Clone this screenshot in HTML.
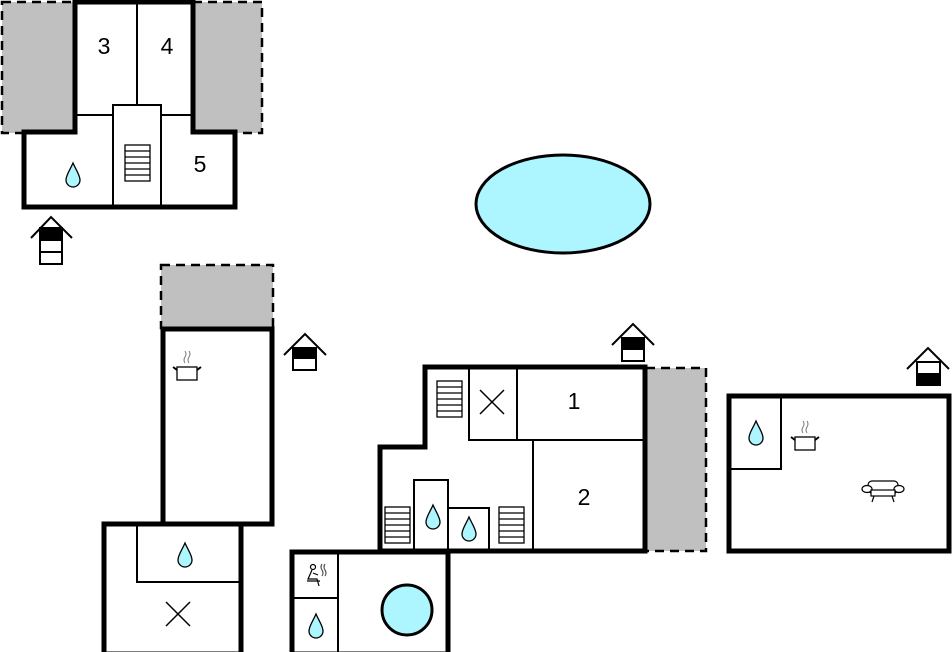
<!DOCTYPE html>
<html><head><meta charset="utf-8"><style>
html,body{margin:0;padding:0;background:#fff;}
svg{display:block;}
text{font-family:"Liberation Sans",sans-serif;font-size:23px;fill:#000;text-anchor:middle;}
</style></head><body>
<svg width="952" height="652" viewBox="0 0 952 652" xmlns="http://www.w3.org/2000/svg">
<defs>
<path id="drop" d="M0,-12 C-3,-5 -7,0 -7,5 A7,7 0 0,0 7,5 C7,0 3,-5 0,-12Z" fill="#aef6ff" stroke="#000" stroke-width="1.3"/>
<g id="stairs"><rect x="0" y="0" width="25" height="36" fill="#fff" stroke="#000" stroke-width="1.3"/>
<path d="M0,6H25M0,12H25M0,18H25M0,24H25M0,30H25" stroke="#000" stroke-width="1.3"/></g>
<g id="pot" fill="none" stroke="#000" stroke-width="1.3">
<rect x="-10" y="-4" width="20" height="13" fill="#fff"/>
<path d="M-10,-1 L-14,-4 M10,-1 L14,-4" stroke-width="2"/>
<path d="M-2,-8 q-2,-3 0,-6 q2,-3 0,-6 M2,-8 q-2,-3 0,-6 q2,-3 0,-6" stroke="#777" stroke-width="1"/>
</g>
<g id="cross"><path d="M-12,-12 L12,12 M12,-12 L-12,12" stroke="#000" stroke-width="1.5"/></g>
</defs>
<g fill="#c0c0c0" stroke="#000" stroke-width="2.5" stroke-dasharray="9,6">
<rect x="2" y="2" width="73" height="131"/>
<rect x="193" y="2" width="69" height="131"/>
<rect x="161" y="265" width="112" height="63"/>
<rect x="646" y="368" width="60" height="183"/>
</g>
<ellipse cx="563" cy="204" rx="87" ry="49" fill="#aef6ff" stroke="#000" stroke-width="3"/>
<g fill="#fff" stroke="#000" stroke-width="5" stroke-linejoin="miter">
<path d="M75,2 H193 V132 H235 V207 H24 V132 H75 Z"/>
<rect x="163" y="329" width="109" height="195"/>
<rect x="104" y="524" width="137" height="130"/>
<path d="M425,367 H645 V551 H380 V447 H425 Z"/>
<rect x="292" y="552" width="156" height="102"/>
<rect x="729" y="396" width="220" height="155"/>
</g>
<g fill="none" stroke="#000" stroke-width="2">
<path d="M137,3 V105 M75,115 H113 M161,115 H193"/>
<rect x="113" y="105" width="48" height="102" fill="#fff"/>
<rect x="137" y="524" width="104" height="58"/>
<path d="M469,367 V440 H645 M517,367 V440 M533,440 V551"/>
<rect x="414" y="480" width="34" height="71"/>
<rect x="448" y="508" width="41" height="43"/>
<path d="M338,552 V652 M292,598 H338"/>
<rect x="729" y="396" width="52" height="73"/>
</g>
<g stroke="#000" stroke-width="5" fill="none">
<path d="M75,2 H193 V132 H235 V207 H24 V132 H75 Z"/>
<path d="M425,367 H645 V551 H380 V447 H425 Z"/>
<rect x="292" y="552" width="156" height="102"/>
<rect x="104" y="524" width="137" height="130"/>
<rect x="163" y="329" width="109" height="195"/>
</g>
<use href="#stairs" x="125" y="145"/>
<use href="#stairs" x="437" y="381"/>
<use href="#stairs" x="385" y="507"/>
<use href="#stairs" x="499" y="507"/>
<use href="#drop" x="73" y="175"/>
<use href="#drop" x="185" y="555"/>
<use href="#drop" x="433" y="517"/>
<use href="#drop" x="469" y="529"/>
<use href="#drop" x="316" y="626"/>
<use href="#drop" x="756" y="433"/>
<use href="#cross" x="178" y="614"/>
<use href="#cross" x="492" y="402"/>
<use href="#pot" x="187" y="371"/>
<use href="#pot" x="805" y="441"/>
<circle cx="407" cy="610" r="25" fill="#aef6ff" stroke="#000" stroke-width="3"/>
<text x="104" y="54">3</text>
<text x="167" y="54">4</text>
<text x="200" y="172">5</text>
<text x="574" y="409">1</text>
<text x="584" y="505">2</text>
<!-- sauna -->
<g stroke="#000" stroke-width="1.2" fill="none">
<circle cx="313" cy="567" r="2.5"/>
<path d="M312,570 L308,579 H317 L319,586 M307,581 H320 M313,573 L318,575"/>
<path d="M322,564 q-2,3 0,6 q2,3 0,6 M325,564 q-2,3 0,6 q2,3 0,6" stroke="#555"/>
</g>
<!-- sofa -->
<g stroke="#000" stroke-width="1.2" fill="#fff">
<rect x="868" y="481" width="30" height="12" rx="4"/>
<ellipse cx="867" cy="489" rx="5" ry="3.5"/>
<ellipse cx="899" cy="489" rx="5" ry="3.5"/>
<rect x="871" y="490" width="24" height="6"/>
<path d="M874,496 L872,502 M892,496 L894,502" fill="none"/>
</g>
<!-- entry icons -->
<g stroke="#000" stroke-width="2" fill="#fff">
<path d="M31,238 L51,217 L72,238" fill="none"/>
<rect x="40" y="228" width="22" height="36"/>
<rect x="40" y="228" width="22" height="12" fill="#000"/>
<path d="M40,252 H62" fill="none"/>
<path d="M284,355 L305,334 L326,355" fill="none"/>
<rect x="293" y="348" width="23" height="22"/>
<rect x="293" y="348" width="23" height="10" fill="#000"/>
<path d="M612,345 L633,324 L654,345" fill="none"/>
<rect x="622" y="338" width="22" height="23"/>
<rect x="622" y="338" width="22" height="11" fill="#000"/>
<path d="M907,369 L928,348 L949,369" fill="none"/>
<rect x="917" y="362" width="23" height="23"/>
<rect x="917" y="374" width="23" height="11" fill="#000"/>
</g>
</svg>
</body></html>
